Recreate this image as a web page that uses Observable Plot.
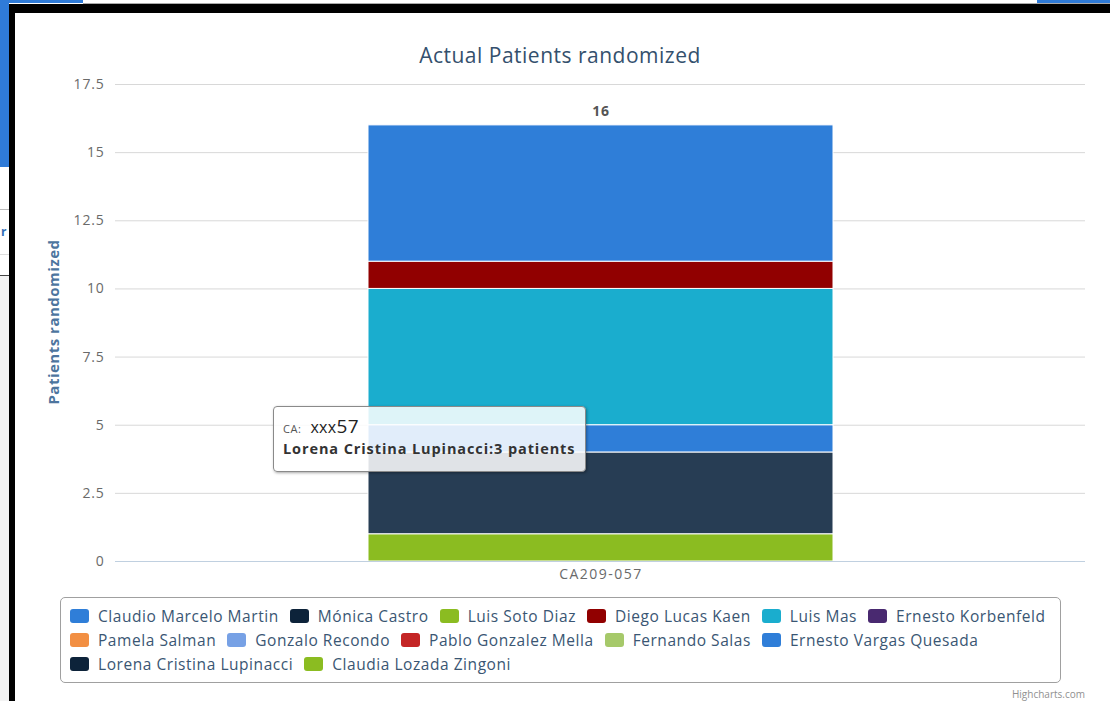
<!DOCTYPE html>
<html>
<head>
<meta charset="utf-8">
<script src="https://cdn.jsdelivr.net/npm/d3@7"></script>
<script src="https://cdn.jsdelivr.net/npm/@observablehq/plot@0.6"></script>
<style>
  html, body { margin: 0; padding: 0; background: #fff; }
  body { width: 1110px; height: 701px; position: relative; overflow: hidden; font-family: "Open Sans", "DejaVu Sans", sans-serif; }
  .abs { position: absolute; }
  #title { left: 0; width: 1120px; top: 41px; text-align: center; font-size: 21px; letter-spacing: 0.5px; color: #34506d; }
  #ytitle { left: 53px; top: 322px; transform: translate(-50%, -50%) rotate(-90deg); font-size: 15px; letter-spacing: 0.5px; font-weight: bold; color: #4d759e; white-space: nowrap; }
  #chart { left: 16px; top: 74px; }
  #chart svg text { letter-spacing: 0.8px; }
  #legend { left: 60px; top: 597px; width: 999px; height: 84px; border: 1px solid #a0a0a0; border-radius: 5px; box-sizing: content-box; }
  .lrow { position: absolute; left: 9px; display: flex; align-items: center; white-space: nowrap; }
  .litem { display: flex; align-items: center; margin-right: 11px; font-size: 15.5px; letter-spacing: 0.55px; color: #3a5673; }
  .lsym { width: 19px; height: 14px; border-radius: 3px; margin-right: 9px; }
  #tooltip { left: 273px; top: 406px; width: 311px; height: 64px; background: rgba(255,255,255,0.86); border: 1px solid #8a8a8a; border-radius: 4px; box-shadow: 1px 1px 3px rgba(0,0,0,0.35); }
  #credits { right: 25px; top: 687px; font-size: 10px; color: #909090; }
</style>
</head>
<body>
<!-- surrounding screenshot frame -->
<div class="abs" style="left:0;top:0;width:83px;height:3px;background:#2f7bd8"></div>
<div class="abs" style="left:1037px;top:0;width:73px;height:3px;background:#2f7bd8"></div>
<div class="abs" style="left:83px;top:3px;width:1027px;height:1px;background:#aaa"></div>
<div class="abs" style="left:9px;top:4px;width:1101px;height:9px;background:#000"></div>
<div class="abs" style="left:9px;top:4px;width:6px;height:697px;background:#000"></div>
<div class="abs" style="left:0;top:0;width:9px;height:167px;background:#2f7bd8"></div>
<div class="abs" style="left:0;top:209px;width:9px;height:1px;background:#bbb"></div>
<div class="abs" style="left:1px;top:224px;font-size:12px;color:#2f6fb5;font-weight:bold;line-height:16px">r</div>
<div class="abs" style="left:0;top:254px;width:9px;height:1px;background:#ddd"></div>
<div class="abs" style="left:0;top:275px;width:9px;height:1px;background:#444"></div>
<div class="abs" style="left:0;top:276px;width:9px;height:425px;background:#f3f3f3"></div>

<div id="title" class="abs">Actual Patients randomized</div>
<div id="ytitle" class="abs">Patients randomized</div>
<div id="chart" class="abs"></div>
<div id="legend" class="abs"></div>
<div id="tooltip" class="abs"></div>
<div id="credits" class="abs">Highcharts.com</div>

<script>
const categories = ["CA209-057"];
const seriesNames = [
  "Claudio Marcelo Martin", "Mónica Castro", "Luis Soto Diaz", "Diego Lucas Kaen",
  "Luis Mas", "Ernesto Korbenfeld", "Pamela Salman", "Gonzalo Recondo",
  "Pablo Gonzalez Mella", "Fernando Salas", "Ernesto Vargas Quesada",
  "Lorena Cristina Lupinacci", "Claudia Lozada Zingoni"
];
const seriesValues = [5, 0, 0, 1, 5, 0, 0, 0, 0, 0, 1, 3, 1];
const palette = [
  "#2f7ed8", "#0d233a", "#8bbc21", "#910000", "#1aadce", "#492970",
  "#f28f43", "#77a1e5", "#c42525", "#a6c96a", "#2f7ed8", "#0d233a", "#8bbc21"
];
const yTicks = [0, 2.5, 5, 7.5, 10, 12.5, 15, 17.5];
const legendRowSizes = [6, 5, 2];
const hovered = "Lorena Cristina Lupinacci";
const tooltipCategory = "xxx57";

// Highcharts-style brighten for the hovered point
function brighten(hex, amt) {
  const c = d3.rgb(hex);
  const f = v => Math.min(255, Math.round(v + amt * 255));
  return d3.rgb(f(c.r), f(c.g), f(c.b)).formatHex();
}

const rows = seriesNames.map((name, i) => ({
  category: categories[0], name, value: seriesValues[i],
  color: name === hovered ? brighten(palette[i], 0.1) : palette[i]
}));
// Highcharts stacks the first series on top: stack in reverse order
const stackRows = rows.slice().reverse().filter(d => d.value > 0);
const totals = categories.map(c => ({category: c, total: d3.sum(rows.filter(r => r.category === c), r => r.value)}));

const chart = Plot.plot({
  width: 1079, height: 517,
  marginLeft: 99, marginRight: 10, marginTop: 10, marginBottom: 30,
  style: {fontFamily: '"Open Sans", "DejaVu Sans", sans-serif', background: "transparent", overflow: "visible"},
  x: {domain: categories, padding: 0.352, label: null},
  y: {domain: [0, 17.5], label: null},
  marks: [
    Plot.gridY(yTicks, {stroke: "#d8d8d8", strokeOpacity: 1}),
    Plot.barY(stackRows, {x: "category", y: "value", fill: "color", stroke: "#fff", strokeWidth: 1, order: null}),
    Plot.ruleY([0], {stroke: "#c0d0e0", strokeWidth: 1}),
    Plot.text(totals, {x: "category", y: "total", text: d => String(d.total), dy: -14, fontWeight: "bold", fontSize: 14, fill: "#555"}),
    Plot.axisY(yTicks, {tickSize: 0, tickPadding: 11, tickFormat: d => String(d), fontSize: 14, fill: "#6a6a6a", label: null}),
    Plot.axisX({tickSize: 0, tickPadding: 8, fontSize: 14, fill: "#6a6a6a", label: null})
  ]
});
document.getElementById("chart").appendChild(chart);
chart.querySelectorAll('g[aria-label="x-axis tick label"] text').forEach(t => t.style.letterSpacing = "1.5px");

// Legend
const legend = document.getElementById("legend");
let idx = 0;
legendRowSizes.forEach((n, r) => {
  const row = document.createElement("div");
  row.className = "lrow";
  row.style.top = (7 + r * 24) + "px";
  for (let k = 0; k < n; k++, idx++) {
    const item = document.createElement("div");
    item.className = "litem";
    const sym = document.createElement("div");
    sym.className = "lsym";
    sym.style.background = palette[idx];
    const label = document.createElement("span");
    label.textContent = seriesNames[idx];
    item.appendChild(sym); item.appendChild(label);
    row.appendChild(item);
  }
  legend.appendChild(row);
});

// Tooltip
const hv = rows.find(r => r.name === hovered);
const tip = document.getElementById("tooltip");
tip.innerHTML =
  `<div style="position:absolute;left:9px;top:6px;white-space:nowrap;color:#333">
     <span style="font-size:11px;color:#555;letter-spacing:0.5px">CA:</span>
     <span style="font-size:16px;color:#222;margin-left:5px;letter-spacing:0.3px">${tooltipCategory.replace(/(\d+)$/, '<span style="font-size:19px">$1</span>')}</span>
   </div>
   <div style="position:absolute;left:9px;top:32px;white-space:nowrap;font-size:14.5px;letter-spacing:0.9px;font-weight:bold;color:#333">${hv.name}:${hv.value} patients</div>`;
</script>
</body>
</html>
